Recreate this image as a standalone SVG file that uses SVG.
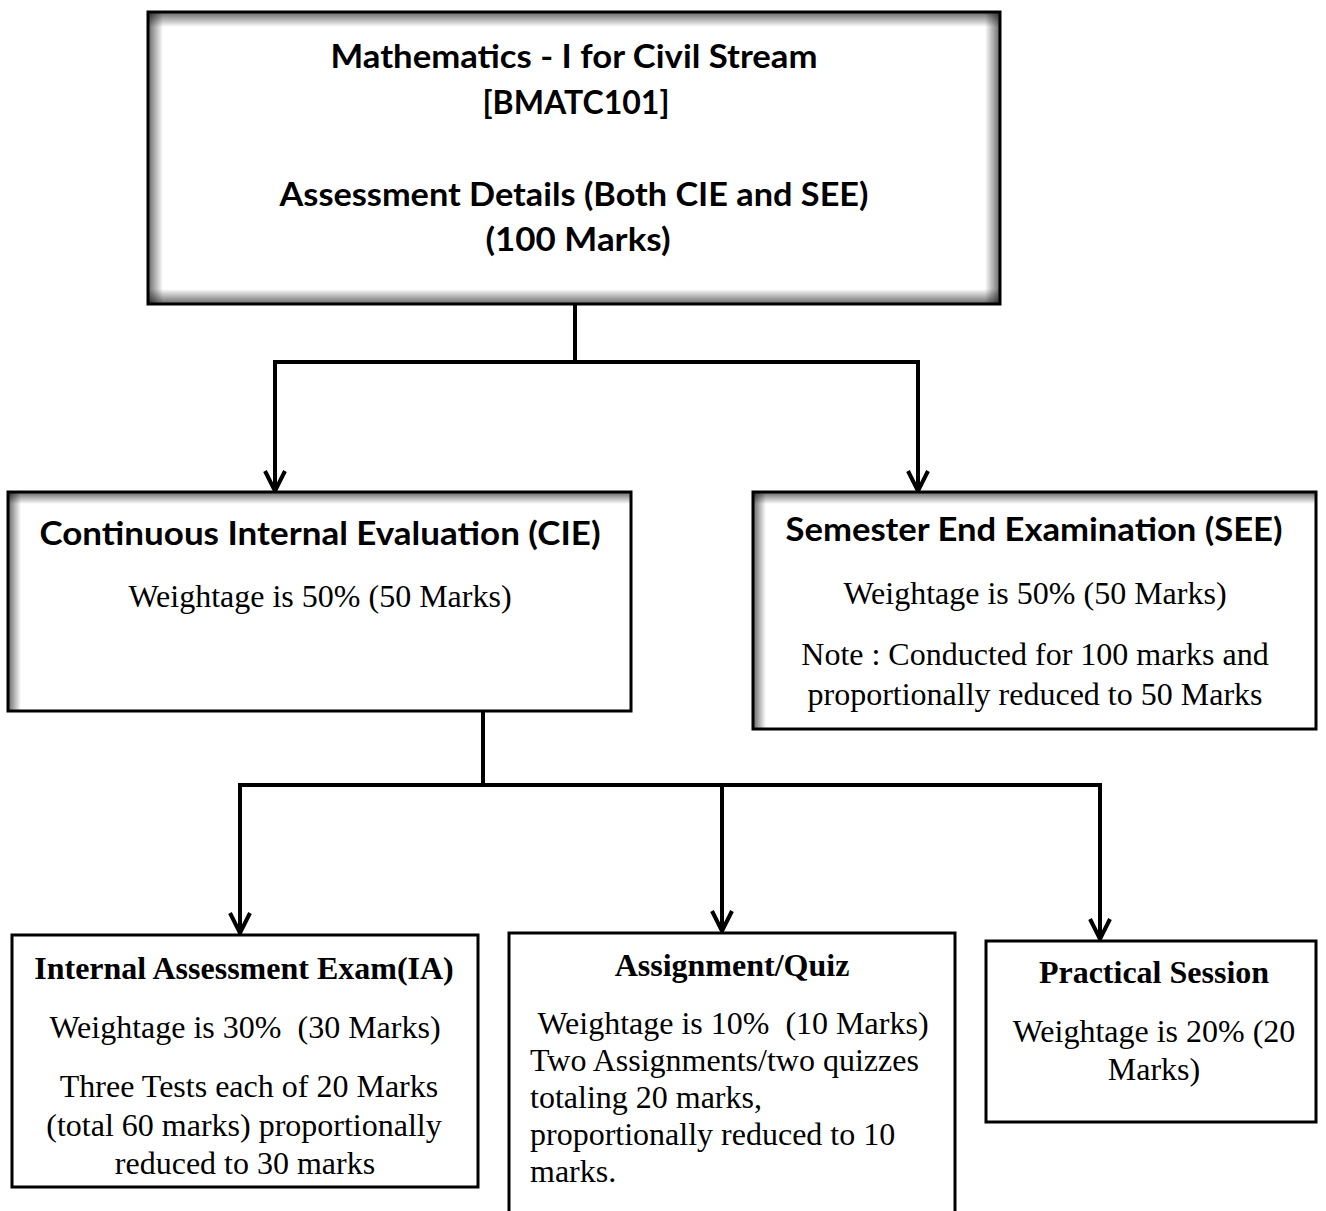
<svg xmlns="http://www.w3.org/2000/svg" width="1326" height="1211" viewBox="0 0 1326 1211">
<defs>
<style>
.box{fill:none;stroke:#000;stroke-width:3}
.bg{fill:#fff}
.cal{font-family:Lato,"Open Sans","Liberation Sans",sans-serif;font-weight:700;fill:#000;text-anchor:middle}
.tm{font-family:"Liberation Serif","Times New Roman",serif;font-size:32px;fill:#000}
.tmc{text-anchor:middle}
.tmb{font-weight:700}
.con{fill:none;stroke:#000;stroke-width:4}
</style>
<linearGradient id="gT" x1="0" y1="0" x2="0" y2="1"><stop offset="0" stop-color="#000" stop-opacity="0.6"/><stop offset="1" stop-color="#000" stop-opacity="0"/></linearGradient>
<linearGradient id="gB" x1="0" y1="1" x2="0" y2="0"><stop offset="0" stop-color="#000" stop-opacity="0.6"/><stop offset="1" stop-color="#000" stop-opacity="0"/></linearGradient>
<linearGradient id="gL" x1="0" y1="0" x2="1" y2="0"><stop offset="0" stop-color="#000" stop-opacity="0.6"/><stop offset="1" stop-color="#000" stop-opacity="0"/></linearGradient>
<linearGradient id="gR" x1="1" y1="0" x2="0" y2="0"><stop offset="0" stop-color="#000" stop-opacity="0.6"/><stop offset="1" stop-color="#000" stop-opacity="0"/></linearGradient>
<marker id="arr" viewBox="0 0 24 24" refX="21" refY="12" markerWidth="24" markerHeight="24" markerUnits="userSpaceOnUse" orient="auto">
<path d="M1,2 L21,12 L1,22" fill="none" stroke="#000" stroke-width="4" stroke-linejoin="miter"/>
</marker>
</defs>

<g id="connectors">
<path class="con" d="M575,304 V362 M273,362 H920"/>
<path class="con" d="M275,362 V491" marker-end="url(#arr)"/>
<path class="con" d="M918,362 V491" marker-end="url(#arr)"/>
<path class="con" d="M483,711 V785 M238,785 H1102"/>
<path class="con" d="M240,785 V933" marker-end="url(#arr)"/>
<path class="con" d="M722,785 V931" marker-end="url(#arr)"/>
<path class="con" d="M1100,785 V939" marker-end="url(#arr)"/>
</g>

<g id="top">
<rect class="bg" x="148" y="12" width="852" height="292"/>
<rect x="148" y="12" width="852" height="15" fill="url(#gT)"/>
<rect x="148" y="289" width="852" height="15" fill="url(#gB)"/>
<rect x="148" y="12" width="15" height="292" fill="url(#gL)"/>
<rect x="985" y="12" width="15" height="292" fill="url(#gR)"/>
<rect class="box" x="148" y="12" width="852" height="292"/>
<text class="cal" x="574" y="68" font-size="33" textLength="487" lengthAdjust="spacingAndGlyphs">Mathematics - I for Civil Stream</text>
<text class="cal" x="576" y="114" font-size="33" textLength="187" lengthAdjust="spacingAndGlyphs">[BMATC101]</text>
<text class="cal" x="574" y="206" font-size="33" textLength="589" lengthAdjust="spacingAndGlyphs">Assessment Details (Both CIE and SEE)</text>
<text class="cal" x="578" y="251" font-size="33" textLength="185" lengthAdjust="spacingAndGlyphs">(100 Marks)</text>
</g>

<g id="cie">
<rect class="bg" x="8" y="492" width="623" height="219"/>
<rect x="8" y="492" width="623" height="12" fill="url(#gT)"/>
<rect x="8" y="492" width="13" height="219" fill="url(#gL)"/>
<rect class="box" x="8" y="492" width="623" height="219"/>
<text class="cal" x="320" y="545" font-size="33" textLength="561" lengthAdjust="spacingAndGlyphs">Continuous Internal Evaluation (CIE)</text>
<text class="tm tmc" x="320" y="607">Weightage is 50% (50 Marks)</text>
</g>

<g id="see">
<rect class="bg" x="753" y="492" width="563" height="237"/>
<rect x="753" y="492" width="563" height="12" fill="url(#gT)"/>
<rect x="753" y="492" width="13" height="237" fill="url(#gL)"/>
<rect class="box" x="753" y="492" width="563" height="237"/>
<text class="cal" x="1034" y="541" font-size="33" textLength="497" lengthAdjust="spacingAndGlyphs">Semester End Examination (SEE)</text>
<text class="tm tmc" x="1035" y="604">Weightage is 50% (50 Marks)</text>
<text class="tm tmc" x="1035" y="665">Note : Conducted for 100 marks and</text>
<text class="tm tmc" x="1035" y="705">proportionally reduced to 50 Marks</text>
</g>

<g id="ia">
<rect class="box" x="12" y="935" width="466" height="252" fill="#fff"/>
<text class="tm tmc tmb" x="244" y="979">Internal Assessment Exam(IA)</text>
<text class="tm tmc" x="245" y="1038" xml:space="preserve">Weightage is 30%  (30 Marks)</text>
<text class="tm tmc" x="249" y="1097">Three Tests each of 20 Marks</text>
<text class="tm tmc" x="244" y="1136">(total 60 marks) proportionally</text>
<text class="tm tmc" x="245" y="1174">reduced to 30 marks</text>
</g>

<g id="assignment">
<rect class="box" x="509" y="933" width="446" height="290" fill="#fff"/>
<text class="tm tmc tmb" x="732" y="976">Assignment/Quiz</text>
<text class="tm" x="530" y="1034" xml:space="preserve"> Weightage is 10%  (10 Marks)</text>
<text class="tm" x="530" y="1071">Two Assignments/two quizzes</text>
<text class="tm" x="530" y="1108">totaling 20 marks,</text>
<text class="tm" x="530" y="1145">proportionally reduced to 10</text>
<text class="tm" x="530" y="1182">marks.</text>
</g>

<g id="practical">
<rect class="box" x="986" y="941" width="330" height="181" fill="#fff"/>
<text class="tm tmc tmb" x="1154" y="983">Practical Session</text>
<text class="tm tmc" x="1154" y="1042">Weightage is 20% (20</text>
<text class="tm tmc" x="1154" y="1080">Marks)</text>
</g>
</svg>
